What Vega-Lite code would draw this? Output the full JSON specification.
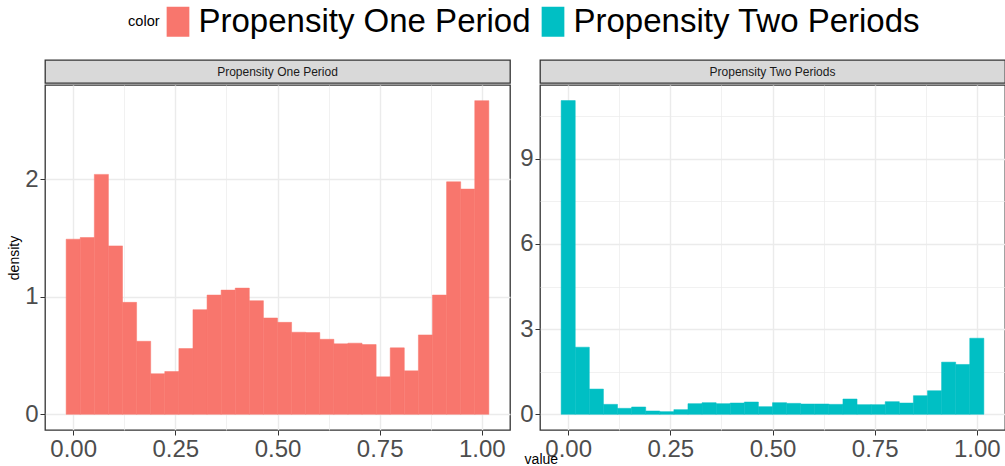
{
  "$schema": "https://vega.github.io/schema/vega-lite/v6.json",
  "padding": {"left": 7, "top": 5, "right": 0, "bottom": 0},
  "background": "white",
  "data": {"values": [
    {"color": "Propensity One Period", "x0": -0.01724, "x1": 0.01724, "density": 1.489},
    {"color": "Propensity One Period", "x0": 0.01724, "x1": 0.05172, "density": 1.503},
    {"color": "Propensity One Period", "x0": 0.05172, "x1": 0.08621, "density": 2.040},
    {"color": "Propensity One Period", "x0": 0.08621, "x1": 0.12069, "density": 1.432},
    {"color": "Propensity One Period", "x0": 0.12069, "x1": 0.15517, "density": 0.952},
    {"color": "Propensity One Period", "x0": 0.15517, "x1": 0.18966, "density": 0.621},
    {"color": "Propensity One Period", "x0": 0.18966, "x1": 0.22414, "density": 0.345},
    {"color": "Propensity One Period", "x0": 0.22414, "x1": 0.25862, "density": 0.364},
    {"color": "Propensity One Period", "x0": 0.25862, "x1": 0.29310, "density": 0.559},
    {"color": "Propensity One Period", "x0": 0.29310, "x1": 0.32759, "density": 0.890},
    {"color": "Propensity One Period", "x0": 0.32759, "x1": 0.36207, "density": 1.014},
    {"color": "Propensity One Period", "x0": 0.36207, "x1": 0.39655, "density": 1.056},
    {"color": "Propensity One Period", "x0": 0.39655, "x1": 0.43103, "density": 1.073},
    {"color": "Propensity One Period", "x0": 0.43103, "x1": 0.46552, "density": 0.966},
    {"color": "Propensity One Period", "x0": 0.46552, "x1": 0.50000, "density": 0.819},
    {"color": "Propensity One Period", "x0": 0.50000, "x1": 0.53448, "density": 0.782},
    {"color": "Propensity One Period", "x0": 0.53448, "x1": 0.56897, "density": 0.698},
    {"color": "Propensity One Period", "x0": 0.56897, "x1": 0.60345, "density": 0.695},
    {"color": "Propensity One Period", "x0": 0.60345, "x1": 0.63793, "density": 0.638},
    {"color": "Propensity One Period", "x0": 0.63793, "x1": 0.67241, "density": 0.599},
    {"color": "Propensity One Period", "x0": 0.67241, "x1": 0.70690, "density": 0.605},
    {"color": "Propensity One Period", "x0": 0.70690, "x1": 0.74138, "density": 0.593},
    {"color": "Propensity One Period", "x0": 0.74138, "x1": 0.77586, "density": 0.319},
    {"color": "Propensity One Period", "x0": 0.77586, "x1": 0.81034, "density": 0.565},
    {"color": "Propensity One Period", "x0": 0.81034, "x1": 0.84483, "density": 0.370},
    {"color": "Propensity One Period", "x0": 0.84483, "x1": 0.87931, "density": 0.675},
    {"color": "Propensity One Period", "x0": 0.87931, "x1": 0.91379, "density": 1.014},
    {"color": "Propensity One Period", "x0": 0.91379, "x1": 0.94828, "density": 1.977},
    {"color": "Propensity One Period", "x0": 0.94828, "x1": 0.98276, "density": 1.915},
    {"color": "Propensity One Period", "x0": 0.98276, "x1": 1.01724, "density": 2.667},
    {"color": "Propensity Two Periods", "x0": -0.01724, "x1": 0.01724, "density": 11.05},
    {"color": "Propensity Two Periods", "x0": 0.01724, "x1": 0.05172, "density": 2.365},
    {"color": "Propensity Two Periods", "x0": 0.05172, "x1": 0.08621, "density": 0.890},
    {"color": "Propensity Two Periods", "x0": 0.08621, "x1": 0.12069, "density": 0.351},
    {"color": "Propensity Two Periods", "x0": 0.12069, "x1": 0.15517, "density": 0.211},
    {"color": "Propensity Two Periods", "x0": 0.15517, "x1": 0.18966, "density": 0.258},
    {"color": "Propensity Two Periods", "x0": 0.18966, "x1": 0.22414, "density": 0.117},
    {"color": "Propensity Two Periods", "x0": 0.22414, "x1": 0.25862, "density": 0.094},
    {"color": "Propensity Two Periods", "x0": 0.25862, "x1": 0.29310, "density": 0.164},
    {"color": "Propensity Two Periods", "x0": 0.29310, "x1": 0.32759, "density": 0.375},
    {"color": "Propensity Two Periods", "x0": 0.32759, "x1": 0.36207, "density": 0.410},
    {"color": "Propensity Two Periods", "x0": 0.36207, "x1": 0.39655, "density": 0.375},
    {"color": "Propensity Two Periods", "x0": 0.39655, "x1": 0.43103, "density": 0.398},
    {"color": "Propensity Two Periods", "x0": 0.43103, "x1": 0.46552, "density": 0.433},
    {"color": "Propensity Two Periods", "x0": 0.46552, "x1": 0.50000, "density": 0.269},
    {"color": "Propensity Two Periods", "x0": 0.50000, "x1": 0.53448, "density": 0.410},
    {"color": "Propensity Two Periods", "x0": 0.53448, "x1": 0.56897, "density": 0.386},
    {"color": "Propensity Two Periods", "x0": 0.56897, "x1": 0.60345, "density": 0.363},
    {"color": "Propensity Two Periods", "x0": 0.60345, "x1": 0.63793, "density": 0.363},
    {"color": "Propensity Two Periods", "x0": 0.63793, "x1": 0.67241, "density": 0.351},
    {"color": "Propensity Two Periods", "x0": 0.67241, "x1": 0.70690, "density": 0.539},
    {"color": "Propensity Two Periods", "x0": 0.70690, "x1": 0.74138, "density": 0.340},
    {"color": "Propensity Two Periods", "x0": 0.74138, "x1": 0.77586, "density": 0.340},
    {"color": "Propensity Two Periods", "x0": 0.77586, "x1": 0.81034, "density": 0.445},
    {"color": "Propensity Two Periods", "x0": 0.81034, "x1": 0.84483, "density": 0.398},
    {"color": "Propensity Two Periods", "x0": 0.84483, "x1": 0.87931, "density": 0.656},
    {"color": "Propensity Two Periods", "x0": 0.87931, "x1": 0.91379, "density": 0.831},
    {"color": "Propensity Two Periods", "x0": 0.91379, "x1": 0.94828, "density": 1.838},
    {"color": "Propensity Two Periods", "x0": 0.94828, "x1": 0.98276, "density": 1.756},
    {"color": "Propensity Two Periods", "x0": 0.98276, "x1": 1.01724, "density": 2.681}
  ]},
  "title": {"text": "value", "orient": "bottom", "anchor": "middle", "fontSize": 14, "fontWeight": "normal", "color": "#000000", "offset": -9, "dx": 35},
  "spacing": 8,
  "hconcat": [
    {
      "spacing": 0,
      "vconcat": [
        {
          "data": {"values": [{"label": "Propensity One Period"}]},
          "width": 465, "height": 23,
          "view": {"fill": "#D9D9D9", "stroke": "#333333", "strokeWidth": 1.3},
          "mark": {"type": "text", "fontSize": 12, "color": "#1A1A1A", "font": "Liberation Sans"},
          "encoding": {"text": {"field": "label", "type": "nominal"}}
        },
        {
          "width": 465, "height": 345,
          "view": {"stroke": "#333333", "strokeWidth": 1.3},
          "transform": [{"filter": "datum.color === 'Propensity One Period'"}],
          "mark": {"type": "bar", "strokeWidth": 0.5},
          "encoding": {
            "x": {"field": "x0", "type": "quantitative",
              "scale": {"domain": [-0.069, 1.069], "nice": false, "zero": false},
              "axis": {"title": null, "values": [0, 0.125, 0.25, 0.375, 0.5, 0.625, 0.75, 0.875, 1], "format": ".2f",
                "labelExpr": "abs(datum.value*4 - round(datum.value*4)) < 1e-9 ? datum.label : ''",
                "tickOpacity": {"condition": {"test": "abs(datum.value*4 - round(datum.value*4)) < 1e-9", "value": 1}, "value": 0},
                "gridWidth": {"condition": {"test": "abs(datum.value*4 - round(datum.value*4)) < 1e-9", "value": 1.4}, "value": 0.7}}},
            "x2": {"field": "x1"},
            "y": {"field": "density", "type": "quantitative",
              "scale": {"domain": [-0.1333, 2.8], "nice": false, "zero": false},
              "axis": {"title": "density", "values": [0, 0.5, 1, 1.5, 2, 2.5], "format": "d",
                "labelExpr": "abs(datum.value - round(datum.value)) < 1e-9 ? datum.label : ''",
                "tickOpacity": {"condition": {"test": "abs(datum.value - round(datum.value)) < 1e-9", "value": 1}, "value": 0},
                "gridWidth": {"condition": {"test": "abs(datum.value - round(datum.value)) < 1e-9", "value": 1.4}, "value": 0.7}}},
            "y2": {"datum": 0},
            "stroke": {"field": "color", "type": "nominal",
              "scale": {"domain": ["Propensity One Period", "Propensity Two Periods"], "range": ["#F8766D", "#00BFC4"]},
              "legend": null},
            "color": {"field": "color", "type": "nominal",
              "scale": {"domain": ["Propensity One Period", "Propensity Two Periods"], "range": ["#F8766D", "#00BFC4"]},
              "legend": {"title": "color", "orient": "none", "legendX": 83, "legendY": -55, "direction": "horizontal",
                "titleOrient": "left", "titleFontSize": 14.6, "titleFontWeight": "normal", "titleColor": "#000000", "titleBaseline": "middle",
                "labelFontSize": 33, "labelColor": "#000000", "labelLimit": 0,
                "symbolType": "M-0.757,-1L0.757,-1L0.757,1L-0.757,1Z", "symbolSize": 900, "symbolStrokeWidth": 0, "symbolOpacity": 1,
                "labelOffset": 4, "columnPadding": 5, "titlePadding": 1.5}}
          }
        }
      ]
    },
    {
      "spacing": 0,
      "vconcat": [
        {
          "data": {"values": [{"label": "Propensity Two Periods"}]},
          "width": 465, "height": 23,
          "view": {"fill": "#D9D9D9", "stroke": "#333333", "strokeWidth": 1.3},
          "mark": {"type": "text", "fontSize": 12, "color": "#1A1A1A", "font": "Liberation Sans"},
          "encoding": {"text": {"field": "label", "type": "nominal"}}
        },
        {
          "width": 465, "height": 345,
          "view": {"stroke": "#333333", "strokeWidth": 1.3},
          "transform": [{"filter": "datum.color === 'Propensity Two Periods'"}],
          "mark": {"type": "bar", "strokeWidth": 0.5},
          "encoding": {
            "x": {"field": "x0", "type": "quantitative",
              "scale": {"domain": [-0.069, 1.069], "nice": false, "zero": false},
              "axis": {"title": null, "values": [0, 0.125, 0.25, 0.375, 0.5, 0.625, 0.75, 0.875, 1], "format": ".2f",
                "labelExpr": "abs(datum.value*4 - round(datum.value*4)) < 1e-9 ? datum.label : ''",
                "tickOpacity": {"condition": {"test": "abs(datum.value*4 - round(datum.value*4)) < 1e-9", "value": 1}, "value": 0},
                "gridWidth": {"condition": {"test": "abs(datum.value*4 - round(datum.value*4)) < 1e-9", "value": 1.4}, "value": 0.7}}},
            "x2": {"field": "x1"},
            "y": {"field": "density", "type": "quantitative",
              "scale": {"domain": [-0.5525, 11.6], "nice": false, "zero": false},
              "axis": {"title": null, "values": [0, 1.5, 3, 4.5, 6, 7.5, 9, 10.5], "format": "d",
                "labelExpr": "abs(datum.value/3 - round(datum.value/3)) < 1e-9 ? datum.label : ''",
                "tickOpacity": {"condition": {"test": "abs(datum.value/3 - round(datum.value/3)) < 1e-9", "value": 1}, "value": 0},
                "gridWidth": {"condition": {"test": "abs(datum.value/3 - round(datum.value/3)) < 1e-9", "value": 1.4}, "value": 0.7}}},
            "y2": {"datum": 0},
            "stroke": {"field": "color", "type": "nominal",
              "scale": {"domain": ["Propensity One Period", "Propensity Two Periods"], "range": ["#F8766D", "#00BFC4"]},
              "legend": null},
            "color": {"field": "color", "type": "nominal",
              "scale": {"domain": ["Propensity One Period", "Propensity Two Periods"], "range": ["#F8766D", "#00BFC4"]},
              "legend": {"title": "color", "orient": "none", "legendX": 83, "legendY": -55, "direction": "horizontal",
                "titleOrient": "left", "titleFontSize": 14.6, "titleFontWeight": "normal", "titleColor": "#000000", "titleBaseline": "middle",
                "labelFontSize": 33, "labelColor": "#000000", "labelLimit": 0,
                "symbolType": "M-0.757,-1L0.757,-1L0.757,1L-0.757,1Z", "symbolSize": 900, "symbolStrokeWidth": 0, "symbolOpacity": 1,
                "labelOffset": 4, "columnPadding": 5, "titlePadding": 1.5}}
          }
        }
      ]
    }
  ],
  "config": {
    "font": "Liberation Sans",
    "view": {"stroke": "#333333"},
    "axis": {
      "labelFont": "Liberation Sans", "labelFontSize": 24, "labelColor": "#4D4D4D",
      "tickColor": "#333333", "tickSize": 5, "tickWidth": 1, "labelPadding": 2,
      "domain": false, "grid": true, "gridColor": "#EBEBEB",
      "labelOverlap": false, "labelFlush": false, "labelBound": false,
      "titleFont": "Liberation Sans", "titleFontSize": 14, "titleFontWeight": "normal", "titleColor": "#000000", "titlePadding": 3
    },
    "legend": {"labelFont": "Liberation Sans", "titleFont": "Liberation Sans"},
    "title": {"font": "Liberation Sans"}
  }
}
